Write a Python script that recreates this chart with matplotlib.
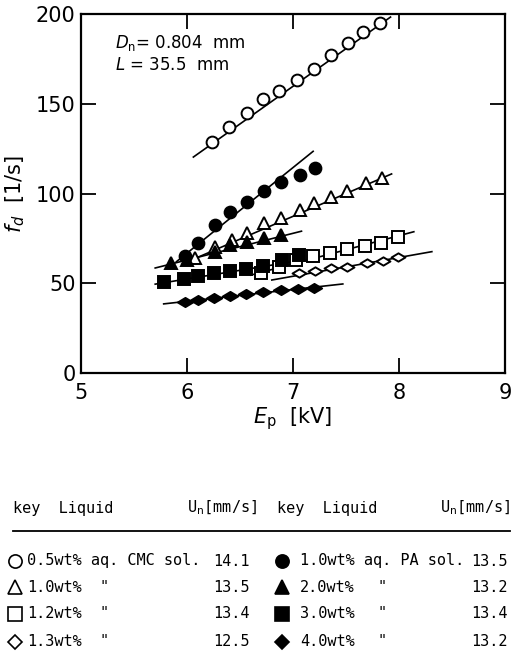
import matplotlib.pyplot as plt
from matplotlib.path import Path

# data: E_p [kV] vs f_d [1/s]
cmc05_E = [6.24, 6.40, 6.57, 6.72, 6.87, 7.04, 7.20, 7.36, 7.52, 7.66, 7.82]
cmc05_f = [128.9, 136.9, 145.0, 152.5, 157.3, 163.2, 169.2, 177.2, 184.0, 189.8, 195.2]
cmc05_fit_E = [6.06, 7.92]
cmc05_fit_f = [120.3, 198.3]

cmc10_E = [6.08, 6.26, 6.42, 6.57, 6.73, 6.89, 7.07, 7.20, 7.36, 7.51, 7.69, 7.84]
cmc10_f = [63.9, 70.4, 74.1, 78.2, 83.4, 86.2, 90.8, 94.9, 98.2, 101.6, 105.7, 108.5]
cmc10_fit_E = [5.95, 7.93]
cmc10_fit_f = [60.6, 110.9]

cmc12_E = [6.70, 6.87, 7.03, 7.19, 7.35, 7.51, 7.68, 7.83, 7.99]
cmc12_f = [55.5, 59.2, 63.0, 65.2, 66.7, 68.9, 70.8, 72.6, 75.6]
cmc12_fit_E = [6.60, 8.14]
cmc12_fit_f = [54.5, 78.7]

cmc13_E = [7.06, 7.21, 7.36, 7.51, 7.70, 7.85, 7.99]
cmc13_f = [55.9, 57.0, 58.3, 59.2, 61.1, 62.6, 64.8]
cmc13_fit_E = [6.80, 8.31]
cmc13_fit_f = [51.8, 67.6]

pa10_E = [5.98, 6.10, 6.26, 6.41, 6.57, 6.73, 6.89, 7.07, 7.21]
pa10_f = [65.2, 72.3, 82.5, 89.9, 95.4, 101.6, 106.6, 110.3, 114.0]
pa10_fit_E = [5.90, 7.19]
pa10_fit_f = [62.0, 123.5]

pa20_E = [5.85, 6.00, 6.26, 6.41, 6.57, 6.73, 6.89]
pa20_f = [61.1, 63.0, 67.6, 71.3, 73.1, 75.0, 76.9]
pa20_fit_E = [5.70, 7.08]
pa20_fit_f = [58.5, 79.0]

pa30_E = [5.78, 5.97, 6.10, 6.25, 6.41, 6.56, 6.72, 6.90, 7.06]
pa30_f = [50.5, 52.5, 54.0, 55.5, 57.0, 58.0, 59.5, 63.0, 66.0]
pa30_fit_E = [5.70, 7.10]
pa30_fit_f = [49.5, 63.0]

pa40_E = [5.98, 6.10, 6.25, 6.41, 6.56, 6.72, 6.89, 7.05, 7.20]
pa40_f = [39.7, 40.5, 42.0, 43.0, 44.0, 45.0, 46.0, 46.8, 47.6]
pa40_fit_E = [5.78, 7.47]
pa40_fit_f = [38.5, 49.6]

# table of liquids
left_conc = ['0.5wt% aq. CMC sol.', '1.0wt%', '1.2wt%', '1.3wt%']
left_un = ['14.1', '13.5', '13.4', '12.5']
right_conc = ['1.0wt% aq. PA sol.', '2.0wt%', '3.0wt%', '4.0wt%']
right_un = ['13.5', '13.2', '13.4', '13.2']
key_markers = ['o', '^', 's', 'D']

diamond = Path([(-1, 0), (0, 0.6), (1, 0), (0, -0.6), (-1, 0)],
               [Path.MOVETO, Path.LINETO, Path.LINETO, Path.LINETO, Path.CLOSEPOLY])

series = [
    (cmc05_E, cmc05_f, cmc05_fit_E, cmc05_fit_f, 'o', 'white', 8.5),
    (cmc10_E, cmc10_f, cmc10_fit_E, cmc10_fit_f, '^', 'white', 8.5),
    (cmc12_E, cmc12_f, cmc12_fit_E, cmc12_fit_f, 's', 'white', 8.5),
    (cmc13_E, cmc13_f, cmc13_fit_E, cmc13_fit_f, diamond, 'white', 10),
    (pa10_E, pa10_f, pa10_fit_E, pa10_fit_f, 'o', 'black', 8.5),
    (pa20_E, pa20_f, pa20_fit_E, pa20_fit_f, '^', 'black', 8.5),
    (pa30_E, pa30_f, pa30_fit_E, pa30_fit_f, 's', 'black', 8.5),
    (pa40_E, pa40_f, pa40_fit_E, pa40_fit_f, diamond, 'black', 11),
]

W, H = 528, 663
fig = plt.figure(figsize=(W / 100, H / 100), dpi=100)
ax = fig.add_axes([81 / W, 1 - 373 / H, 424 / W, 359 / H])

for E, f, fE, ff, mk, fc, ms in series:
    ax.plot(fE, ff, color='black', lw=1.2, zorder=2)
    ax.plot(E, f, ls='none', marker=mk, ms=ms, mfc=fc, mec='black', mew=1.4, zorder=3)

ax.set_xlim(5, 9)
ax.set_ylim(0, 200)
ax.set_xticks([5, 6, 7, 8, 9])
ax.set_yticks([0, 50, 100, 150, 200])
ax.tick_params(direction='in', length=11, width=1.3, labelsize=15, top=True, right=True)
ax.tick_params(axis='y', pad=4)
ax.tick_params(axis='x', pad=7)
for sp in ax.spines.values():
    sp.set_linewidth(1.6)

ax.set_xlabel(r'$E_{\rm p}$  [kV]', fontsize=15, labelpad=2)
ax.set_ylabel(r'$f_d$  [1/s]', fontsize=15, labelpad=6)

ax.text(0.08, 0.905, r'$D_{\rm n}$= 0.804  mm', transform=ax.transAxes, fontsize=12)
ax.text(0.08, 0.845, r'$L$ = 35.5  mm', transform=ax.transAxes, fontsize=12)

# key table below the plot, in pixel coordinates
tab = fig.add_axes([0, 0, 1, 1 - 460 / H])
tab.set_xlim(0, W)
tab.set_ylim(H, 460)
tab.axis('off')

mono = 'DejaVu Sans Mono'
fs = 11
tab.text(13, 508, 'key  Liquid', fontsize=fs, family=mono, va='center')
tab.text(257, 508, r'U$_{\rm n}$[mm/s]', fontsize=fs, family=mono, va='center', ha='right')
tab.text(277, 508, 'key  Liquid', fontsize=fs, family=mono, va='center')
tab.text(510, 508, r'U$_{\rm n}$[mm/s]', fontsize=fs, family=mono, va='center', ha='right')
tab.plot([13, 510], [531, 531], color='black', lw=1.3)

row_y = [561, 587, 614, 642]
for i in range(4):
    y = row_y[i]
    mk = key_markers[i]
    ms = 9.5 if mk != 'D' else 7.5
    tab.plot([15], [y], ls='none', marker=mk, ms=ms, mfc='white', mec='black', mew=1.2)
    tab.plot([282], [y], ls='none', marker=mk, ms=ms, mfc='black', mec='black', mew=1.2)
    tab.text(27, y, left_conc[i], fontsize=fs, family=mono, va='center')
    tab.text(250, y, left_un[i], fontsize=fs, family=mono, va='center', ha='right')
    tab.text(300, y, right_conc[i], fontsize=fs, family=mono, va='center')
    tab.text(508, y, right_un[i], fontsize=fs, family=mono, va='center', ha='right')
    if i > 0:
        tab.text(100, y, '"', fontsize=fs, family=mono, va='center')
        tab.text(378, y, '"', fontsize=fs, family=mono, va='center')

fig.savefig('out.png', dpi=100)
